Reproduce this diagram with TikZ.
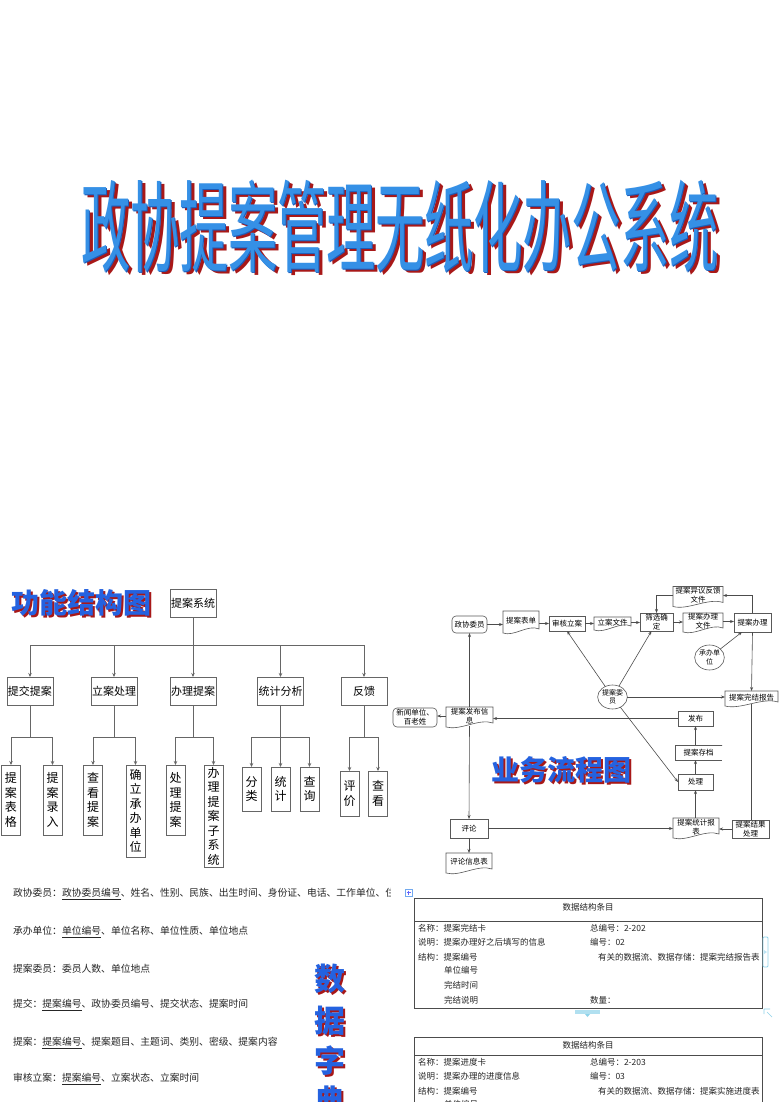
\documentclass[tikz,border=0pt]{standalone}
\usepackage{graphicx}
\usepackage{fontspec}
\setmainfont{Noto Sans CJK SC}
\usetikzlibrary{shapes.geometric,arrows.meta,calc}
\definecolor{ttlblue}{HTML}{3590E6}
\definecolor{ttldark}{HTML}{1C5CB8}
\definecolor{ttlred}{HTML}{A81818}
\definecolor{lblblue}{HTML}{2462E0}
\definecolor{hcyan}{HTML}{8FD3EA}
\newcommand\docshape[1]{\draw[black!65, line width=0.6pt] (#1.north west) -- (#1.north east) -- ([yshift=2pt]#1.south east) .. controls ($(#1.south west)!0.7!(#1.south east)+(0,7pt)$) and ($(#1.south west)!0.3!(#1.south east)+(0,-6pt)$) .. ([yshift=-2pt]#1.south west) -- cycle;}
\tikzset{
 every node/.style={inner sep=0pt, outer sep=0pt},
 tbox/.style={draw=black!60, line width=0.8pt, fill=white, font=\fontsize{11}{13}\selectfont, minimum width=46pt, minimum height=28pt},
 vbox/.style={draw=black!60, line width=0.8pt, anchor=north, minimum width=19pt, align=center, font=\fontsize{12}{14.5}\selectfont},
 tline/.style={draw=black!60, line width=0.8pt},
 tarr/.style={tline, -{Stealth[length=4pt,width=3.5pt]}},
 fbox/.style={draw=black!65, line width=0.6pt, align=center, font=\fontsize{7.5}{9}\selectfont},
 fdoc/.style={align=center, font=\fontsize{7.5}{9}\selectfont},
 fell/.style={ellipse, draw=black!65, line width=0.6pt, align=center, font=\fontsize{7}{8.5}\selectfont},
 farr/.style={draw=black!70, line width=0.6pt, -{Stealth[length=4pt,width=3pt]}},
 fline/.style={draw=black!70, line width=0.6pt},
 dictxt/.style={anchor=west, font=\fontsize{9.8}{12}\selectfont, text=black!85},
 tabtxt/.style={anchor=west, font=\fontsize{8.5}{10}\selectfont, text=black!85},
 bigttl/.style={font=\fontsize{100}{100}\selectfont},
 lbl/.style={font=\bfseries\fontsize{28}{28}\selectfont},
}
\begin{document}
\begin{tikzpicture}[x=1pt,y=-1pt]
\fill[white] (0,0) rectangle (780,1102);
\useasboundingbox (0,0) rectangle (780,1102);

% ---------- title ----------
\node[bigttl, text=ttlred] (ttlsh) at (404,229.5) {\scalebox{0.49}[1]{政协提案管理无纸化办公系统}};
\node[bigttl, text=ttldark] (ttlol) at (401,227) {\scalebox{0.49}[1]{政协提案管理无纸化办公系统}};
\node[bigttl, text=ttlblue] (ttl) at (400,226) {\scalebox{0.49}[1]{政协提案管理无纸化办公系统}};

% ---------- function structure ----------
\node[lbl, text=ttlred] (l1sh) at (83,605) {功能结构图};
\node[lbl, text=lblblue] (l1) at (81,603) {功能结构图};

\node[tbox] (root) at (193,603) {提案系统};
\node[tbox] (a1) at (30,691) {提交提案};
\node[tbox] (a2) at (114,691) {立案处理};
\node[tbox] (a3) at (193,691) {办理提案};
\node[tbox] (a4) at (280.5,691) {统计分析};
\node[tbox] (a5) at (364,691) {反馈};
\draw[tline] (root.south) -- ++(0,28) coordinate (bus);
\foreach \n in {a1,a2,a3,a4,a5} \draw[tarr] (bus) -| (\n.north);

\node[vbox, minimum height=70pt] (b11) at (11,765) {提\\案\\表\\格};
\node[vbox, minimum height=70pt] (b12) at (52.5,765) {提\\案\\录\\入};
\node[vbox, minimum height=70pt] (b21) at (93,765) {查\\看\\提\\案};
\node[vbox, minimum height=92pt] (b22) at (135.5,765) {确\\立\\承\\办\\单\\位};
\node[vbox, minimum height=70pt] (b31) at (175.5,765) {处\\理\\提\\案};
\node[vbox, minimum height=102pt] (b32) at (213.5,765) {办\\理\\提\\案\\子\\系\\统};
\node[vbox, minimum height=44pt] (b41) at (251.5,767) {分\\类};
\node[vbox, minimum height=44pt] (b42) at (280.5,767) {统\\计};
\node[vbox, minimum height=44pt] (b43) at (309.5,767) {查\\询};
\node[vbox, minimum height=45pt] (b51) at (349.5,771) {评\\价};
\node[vbox, minimum height=45pt] (b52) at (378,771) {查\\看};
\foreach \p/\c in {a1/b11,a1/b12,a2/b21,a2/b22,a3/b31,a3/b32,a4/b41,a4/b42,a4/b43,a5/b51,a5/b52}
  \draw[tarr] (\p.south) -- ++(0,32) -| (\c.north);

% ---------- business flow ----------
\node[fbox, rounded corners=4pt, minimum width=35pt, minimum height=17pt] (zxwy) at (469.5,624.5) {政协委员};
\node[fdoc, minimum width=36pt, minimum height=20pt] (tabd) at (521,621) {提案表单};
\node[fbox, minimum width=36pt, minimum height=15pt] (shla) at (567,623.5) {审核立案};
\node[fdoc, minimum width=37pt, minimum height=11pt] (lawj) at (612.5,622.5) {立案文件};
\node[fbox, minimum width=33pt, minimum height=18pt] (sxqd) at (656.5,622) {筛选确\\定};
\node[fdoc, minimum width=40pt, minimum height=17pt] (blwj) at (703,621.5) {提案办理\\文件};
\node[fbox, minimum width=37pt, minimum height=19pt] (tabl) at (752.5,622.5) {提案办理};
\node[fdoc, minimum width=50pt, minimum height=18pt] (yyfk) at (698,595.5) {提案异议反馈\\文件};
\node[fell, minimum width=27pt, minimum height=25pt] (cbdw) at (709.5,657.5) {承办单\\位};
\node[fell, minimum width=29pt, minimum height=24pt] (tawy) at (612.5,697) {提案委\\员};
\node[fdoc, minimum width=53pt, minimum height=13pt] (wjbg) at (751.5,697.5) {提案完结报告};
\node[fbox, minimum width=35pt, minimum height=15pt] (fabu) at (695.5,718.5) {发布};
\node[fdoc, minimum width=47pt, minimum height=18pt] (tafb) at (469.5,716) {提案发布信\\息};
\node[fbox, rounded corners=4pt, minimum width=44pt, minimum height=19pt] (xwdw) at (415,717.5) {新闻单位、\\百老姓};
\node[fdoc, minimum width=47pt, minimum height=15pt] (cd) at (698.5,752.5) {提案存档};
\node[fbox, minimum width=35pt, minimum height=16pt] (cl) at (695.5,782) {处理};
\node[fbox, minimum width=38pt, minimum height=19pt] (pl) at (469,828.5) {评论};
\node[fdoc, minimum width=46pt, minimum height=18pt] (plxx) at (469,862) {评论信息表};
\node[fdoc, minimum width=46pt, minimum height=18pt] (tjbb) at (696,827) {提案统计报\\表};
\node[fbox, minimum width=37pt, minimum height=18pt] (jgcl) at (750.5,829) {提案结果\\处理};
\foreach \d in {tabd,lawj,blwj,yyfk,wjbg,tafb,plxx,tjbb} \docshape{\d}
\draw[black!65, line width=0.6pt] (cd.north east) -- (cd.north west) -- (cd.south west) -- (cd.south east);

\draw[farr] (zxwy.east) -- (zxwy.east -| tabd.west);
\draw[farr] (tabd.east |- shla.west) -- (shla.west);
\draw[farr] (shla.east) -- (shla.east -| lawj.west);
\draw[farr] (lawj.east) -- (lawj.east -| sxqd.west);
\draw[farr] (sxqd.east) -- (sxqd.east -| blwj.west);
\draw[farr] (blwj.east) -- (blwj.east -| tabl.west);
\draw[farr] (tabl.north) |- (yyfk.east);
\draw[farr] (yyfk.west) -| (sxqd.north);
\draw[farr] (cbdw) -- ([xshift=8pt]tabl.south west);
\draw[farr] (tabl.south) -- (wjbg.north);
\draw[farr] (tawy) -- (shla.south);
\draw[farr] (tawy) -- ([xshift=-5pt]sxqd.south);
\draw[farr] (tawy.east) -- (tawy.east -| wjbg.west);
\draw[farr] (tawy) -- (cl.west);
\draw[fline] (wjbg.south) -- (wjbg.south |- jgcl.north);
\draw[farr] (jgcl.west) -- (jgcl.west -| tjbb.east);
\draw[farr] (pl.east) -- (pl.east -| tjbb.west);
\draw[farr] (tjbb.north -| cl.south) -- (cl.south);
\draw[farr] (cl.north) -- (cl.north |- cd.south);
\draw[farr] (cl.north |- cd.north) -- (fabu.south);
\draw[farr] (fabu.west) -- (fabu.west -| tafb.east);
\draw[farr] (tafb.west) -- (tafb.west -| xwdw.east);
\draw[farr] (tafb.north) -- (zxwy.south);
\draw[farr] ([yshift=-1pt]tafb.south) -- (pl.north);
\draw[farr] (pl.south) -- (plxx.north);

\node[lbl, text=ttlred] (l2sh) at (563,772) {业务流程图};
\node[lbl, text=lblblue] (l2) at (561,770) {业务流程图};

% ---------- data dictionary ----------
\begin{scope}
\clip (0,880) rectangle (390,908);
\node[dictxt] (d1) at (13,894) {政协委员：\underline{政协委员编号}、姓名、性别、民族、出生时间、身份证、电话、工作单位、住址};
\end{scope}
\node[dictxt] (d2) at (13,932) {承办单位：\underline{单位编号}、单位名称、单位性质、单位地点};
\node[dictxt] (d3) at (13,969) {提案委员：委员人数、单位地点};
\node[dictxt] (d4) at (13,1005) {提交：\underline{提案编号}、政协委员编号、提交状态、提案时间};
\node[dictxt] (d5) at (13,1043) {提案：\underline{提案编号}、提案题目、主题词、类别、密级、提案内容};
\node[dictxt] (d6) at (13,1079) {审核立案：\underline{提案编号}、立案状态、立案时间};

\foreach \ch/\yy [count=\i] in {数/979,据/1021,字/1061,典/1101}{
  \node[font=\bfseries\fontsize{31}{31}\selectfont, text=ttlred] (v\i sh) at (331.5,\yy+1.5) {\ch};
  \node[font=\bfseries\fontsize{31}{31}\selectfont, text=lblblue] (v\i) at (330,\yy) {\ch};
}

% plus icon
\draw[hcyan!80!blue, line width=0.6pt, fill=white] (405,889) rectangle (412,896);
\draw[blue!60, line width=0.8pt] (406.5,892.5) -- (410.5,892.5) (408.5,890.5) -- (408.5,894.5);

% table 1
\draw[black!70, line width=0.8pt] (414,898) rectangle (762,1008);
\draw[black!70, line width=0.8pt] (414,921) -- (762,921);
\node[tabtxt, anchor=center] (t1h) at (588,907) {数据结构条目};
\node[tabtxt] (t1a) at (418,928) {名称：提案完结卡};
\node[tabtxt] (t1b) at (590,928) {总编号：2-202};
\node[tabtxt] (t1c) at (418,942) {说明：提案办理好之后填写的信息};
\node[tabtxt] (t1d) at (590,942) {编号：02};
\node[tabtxt] (t1e) at (418,957) {结构：提案编号};
\node[tabtxt] (t1f) at (598,957) {有关的数据流、数据存储：提案完结报告表};
\node[tabtxt] (t1g) at (444,970) {单位编号};
\node[tabtxt] (t1i) at (444,985) {完结时间};
\node[tabtxt] (t1j) at (444,1000) {完结说明};
\node[tabtxt] (t1k) at (590,1000) {数量：};
% handles
\draw[hcyan, line width=0.8pt, rounded corners=1pt] (763,937) rectangle (768,967);
\fill[hcyan!60] (764,950) -- (767,952) -- (764,954) -- cycle;
\fill[hcyan!70] (575,1010) rectangle (600,1014);
\fill[hcyan] (585,1014) -- (590,1014) -- (587.5,1017) -- cycle;
\draw[hcyan, line width=0.7pt] (764,1009) -- (770,1009) (764,1009) -- (764,1014) (767,1012) -- (772,1017);

% table 2
\draw[black!70, line width=0.8pt] (414,1037) -- (762,1037) -- (762,1110) (414,1037) -- (414,1110);
\draw[black!70, line width=0.8pt] (414,1055) -- (762,1055);
\node[tabtxt, anchor=center] (t2h) at (588,1045) {数据结构条目};
\node[tabtxt] (t2a) at (418,1062) {名称：提案进度卡};
\node[tabtxt] (t2b) at (590,1062) {总编号：2-203};
\node[tabtxt] (t2c) at (418,1076) {说明：提案办理的进度信息};
\node[tabtxt] (t2d) at (590,1076) {编号：03};
\node[tabtxt] (t2e) at (418,1091) {结构：提案编号};
\node[tabtxt] (t2f) at (598,1091) {有关的数据流、数据存储：提案实施进度表};
\node[tabtxt] (t2g) at (444,1104) {单位编号};
\end{tikzpicture}
\end{document}
